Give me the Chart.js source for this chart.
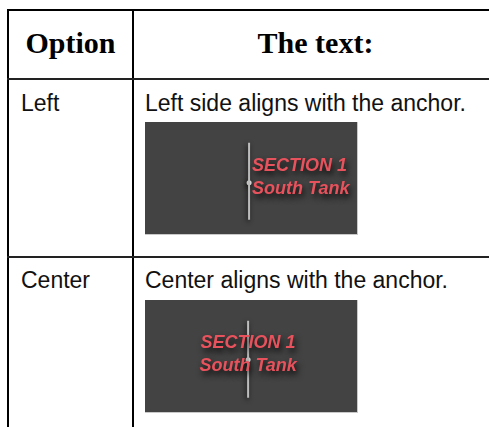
<!DOCTYPE html>
<html>
<head>
<meta charset="utf-8">
<script src="https://cdn.jsdelivr.net/npm/chart.js"></script>
<style>
    body { margin: 0; background: #fff; width: 489px; height: 427px; overflow: hidden; position: relative; }
    .linha { position: absolute; background: #000; }
    .cab { position: absolute; font: bold 30px "Liberation Serif", "Times New Roman", serif; line-height: 30px; color: #000; text-align: center; white-space: nowrap; }
    .txt { position: absolute; font: 23px "Liberation Sans", Arial, sans-serif; line-height: 23px; color: #111; white-space: nowrap; }
    .quadro { position: absolute; left: 145px; border-right: 1px solid #c9c9c9; border-bottom: 1px solid #c9c9c9; }
    .quadro canvas { display: block; }
</style>
</head>
<body>

<!-- grade da tabela -->
<div class="linha" style="left:7px; top:9px; width:482px; height:2px;"></div>
<div class="linha" style="left:7px; top:9px; width:2px; height:418px;"></div>
<div class="linha" style="left:132px; top:9px; width:2px; height:418px;"></div>
<div class="linha" style="left:7px; top:78px; width:482px; height:2px; background:#222;"></div>
<div class="linha" style="left:7px; top:256px; width:482px; height:2px; background:#222;"></div>

<div class="cab" style="left:9px; width:123px; top:28px;">Option</div>
<div class="cab" style="left:134px; width:363px; top:28px;">The text:</div>

<div class="txt" style="left:21px; top:92px;" id="opcao0"></div>
<div class="txt" style="left:145px; top:92px;" id="desc0"></div>
<div class="quadro" style="top:122px;"><canvas id="ancora0" width="212" height="112"></canvas></div>

<div class="txt" style="left:21px; top:269px;" id="opcao1"></div>
<div class="txt" style="left:145px; top:269px;" id="desc1"></div>
<div class="quadro" style="top:300px;"><canvas id="ancora1" width="212" height="112"></canvas></div>

<script>
// dados da tabela
var opcoes = ['Left', 'Center'];
var descricoes = ['Left side aligns with the anchor.', 'Center aligns with the anchor.'];
var alinhamentos = ['left', 'center'];
var rotulo = ['SECTION 1', 'South Tank'];

// ancora e linha vertical (unidades do eixo)
var ancoraX = [104, 103];
var ancoraY = [61, 60];
var linhaTopo = [18, 18];
var linhaBase = [101, 101];

// fundo escuro da "captura"
var fundoPlugin = {
    id: 'fundo',
    beforeDraw: function (chart) {
        var ctx = chart.ctx;
        ctx.save();
        ctx.fillStyle = '#434343';
        ctx.fillRect(0, 0, chart.width, chart.height);
        ctx.restore();
    },
    beforeDatasetsDraw: function (chart) {
        var ctx = chart.ctx;
        ctx.save();
        ctx.shadowColor = 'rgba(0,0,0,0.8)';
        ctx.shadowBlur = 5;
        ctx.shadowOffsetX = -1;
        ctx.shadowOffsetY = 2;
    },
    afterDatasetsDraw: function (chart) {
        chart.ctx.restore();
    }
};

// texto vermelho preso na ancora
var rotuloPlugin = {
    id: 'rotulo',
    afterDraw: function (chart) {
        var i = chart.options.plugins.rotulo.indice;
        var ctx = chart.ctx;
        var px = chart.scales.x.getPixelForValue(ancoraX[i]);
        var py = chart.scales.y.getPixelForValue(ancoraY[i]);
        var alin = alinhamentos[i];
        var dx = alin == 'left' ? 3 : 0;

        ctx.save();
        ctx.font = 'italic bold 18px "Liberation Sans", Arial, sans-serif';
        ctx.textAlign = alin;
        ctx.textBaseline = 'middle';
        ctx.shadowColor = 'rgba(0,0,0,0.9)';
        ctx.shadowBlur = 6;
        ctx.shadowOffsetX = 2;
        ctx.shadowOffsetY = 4;
        ctx.fillStyle = '#e8525c';
        ctx.fillText(rotulo[0], px + dx, py - 17);
        ctx.fillText(rotulo[1], px + dx, py + 6);
        ctx.restore();
    }
};

function desenharAncora(i) {
    var ctx = document.getElementById('ancora' + i).getContext('2d');

    new Chart(ctx, {
        type: 'scatter',
        data: {
            datasets: [{
                data: [{ x: ancoraX[i], y: linhaTopo[i] }, { x: ancoraX[i], y: linhaBase[i] }],
                showLine: true,
                borderColor: '#bdbdbd',
                borderWidth: 2,
                pointRadius: 0
            }, {
                data: [{ x: ancoraX[i], y: ancoraY[i] }],
                pointRadius: 2.5,
                pointBorderWidth: 0,
                backgroundColor: '#ffffff'
            }]
        },
        options: {
            responsive: false,
            animation: false,
            devicePixelRatio: 1,
            events: [],
            layout: { padding: 0 },
            scales: {
                x: { display: false, min: 0, max: 212 },
                y: { display: false, min: 0, max: 112, reverse: true }
            },
            plugins: {
                legend: { display: false },
                tooltip: { enabled: false },
                rotulo: { indice: i }
            }
        },
        plugins: [fundoPlugin, rotuloPlugin]
    });
}

for (var i = 0; i < opcoes.length; i++) {
    document.getElementById('opcao' + i).innerHTML = opcoes[i];
    document.getElementById('desc' + i).innerHTML = descricoes[i];
    desenharAncora(i);
}
</script>
</body>
</html>
